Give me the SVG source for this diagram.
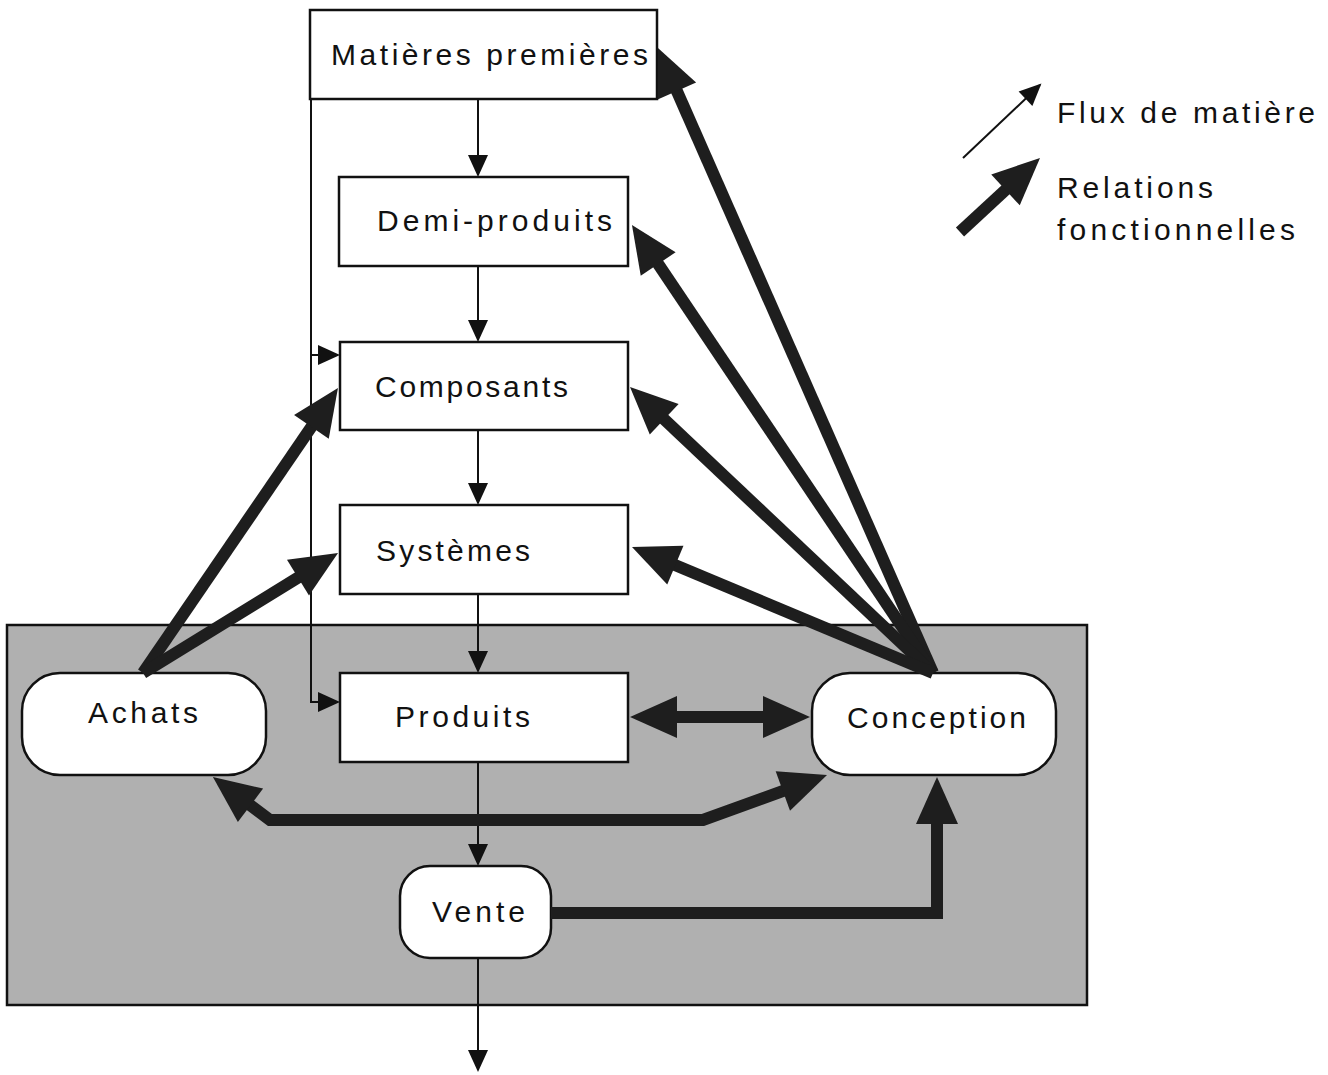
<svg xmlns="http://www.w3.org/2000/svg" width="1328" height="1075" viewBox="0 0 1328 1075">
<style>
  .box{fill:#fff;stroke:#111;stroke-width:2.5}
  .lbl{font-family:"Liberation Sans",Arial,sans-serif;font-size:30px;fill:#111}
  .thin{fill:none;stroke:#111;stroke-width:2}
  .thick{fill:none;stroke:#1e1e1e;stroke-width:12;stroke-linejoin:miter}
</style>
<defs>
  <marker id="hThin" markerUnits="userSpaceOnUse" markerWidth="40" markerHeight="40" refX="0" refY="0" orient="auto-start-reverse" overflow="visible">
    <path d="M2,0 L-20,-10 L-20,10 Z" fill="#111"/>
  </marker>
  <marker id="hThick" markerUnits="userSpaceOnUse" markerWidth="80" markerHeight="80" refX="0" refY="0" orient="auto-start-reverse" overflow="visible">
    <path d="M18,0 L-29,-21 L-29,21 Z" fill="#1e1e1e"/>
  </marker>
</defs>
<rect width="1328" height="1075" fill="#fff"/>

<g id="zone">
  <rect x="7" y="625" width="1080" height="380" fill="#b0b0b0" stroke="#111" stroke-width="2.5"/>
</g>

<g id="matieres">
  <rect class="box" x="310" y="10" width="347" height="89"/>
  <text class="lbl" x="331" y="65" textLength="317" lengthAdjust="spacing">Matières premières</text>
</g>
<g id="demi">
  <rect class="box" x="339" y="177" width="289" height="89"/>
  <text class="lbl" x="377" y="231" textLength="235" lengthAdjust="spacing">Demi-produits</text>
</g>
<g id="composants">
  <rect class="box" x="340" y="342" width="288" height="88"/>
  <text class="lbl" x="375" y="397" textLength="193" lengthAdjust="spacing">Composants</text>
</g>
<g id="systemes">
  <rect class="box" x="340" y="505" width="288" height="89"/>
  <text class="lbl" x="376" y="561" textLength="154" lengthAdjust="spacing">Systèmes</text>
</g>
<g id="produits">
  <rect class="box" x="340" y="673" width="288" height="89"/>
  <text class="lbl" x="395" y="727" textLength="135" lengthAdjust="spacing">Produits</text>
</g>
<g id="achats">
  <rect class="box" x="22" y="673" width="244" height="102" rx="38" ry="38"/>
  <text class="lbl" x="88" y="723" textLength="110" lengthAdjust="spacing">Achats</text>
</g>
<g id="conception">
  <rect class="box" x="812" y="673" width="244" height="102" rx="38" ry="38"/>
  <text class="lbl" x="847" y="728" textLength="179" lengthAdjust="spacing">Conception</text>
</g>
<g id="vente">
  <rect class="box" x="400" y="866" width="151" height="92" rx="30" ry="30"/>
  <text class="lbl" x="432" y="922" textLength="93" lengthAdjust="spacing">Vente</text>
</g>

<g id="connectors">
  <path class="thin" d="M478,99 L478,175" marker-end="url(#hThin)"/>
  <path class="thin" d="M478,266 L478,340" marker-end="url(#hThin)"/>
  <path class="thin" d="M478,430 L478,503" marker-end="url(#hThin)"/>
  <path class="thin" d="M478,594 L478,671" marker-end="url(#hThin)"/>
  <path class="thin" d="M478,762 L478,864" marker-end="url(#hThin)"/>
  <path class="thin" d="M478,958 L478,1070" marker-end="url(#hThin)"/>
  <path class="thin" d="M311,99 L311,702 L338,702" marker-end="url(#hThin)"/>
  <path class="thin" d="M311,355 L338,355" marker-end="url(#hThin)"/>
  <path class="thick" d="M933,673 L665.2,64.5" marker-end="url(#hThick)"/>
  <path class="thick" d="M933,673 L642,239.9" marker-end="url(#hThick)"/>
  <path class="thick" d="M933,673 L643.1,399.4" marker-end="url(#hThick)"/>
  <path class="thick" d="M933,673 L648.6,554" marker-end="url(#hThick)"/>
  <path class="thick" d="M143,673 L327.8,402.9" marker-end="url(#hThick)"/>
  <path class="thick" d="M143,673 L322.7,562.4" marker-end="url(#hThick)"/>
  <path class="thick" d="M648,717 L792,717" marker-start="url(#hThick)" marker-end="url(#hThick)"/>
  <path class="thick" d="M227.3,787.9 L270,820 L703,820 L810.1,781.1" marker-start="url(#hThick)" marker-end="url(#hThick)"/>
  <path class="thick" d="M551,913 L937,913 L937,795" marker-end="url(#hThick)"/>
</g>

<g id="legend">
  <path class="thin" d="M963,158 L1040,85" marker-end="url(#hThin)"/>
  <path class="thick" d="M960,232 L1026.8,170.2" marker-end="url(#hThick)"/>
  <text class="lbl" x="1057" y="123" textLength="258" lengthAdjust="spacing">Flux de matière</text>
  <text class="lbl" x="1057" y="198" textLength="156" lengthAdjust="spacing">Relations</text>
  <text class="lbl" x="1057" y="240" textLength="238" lengthAdjust="spacing">fonctionnelles</text>
</g>
</svg>
